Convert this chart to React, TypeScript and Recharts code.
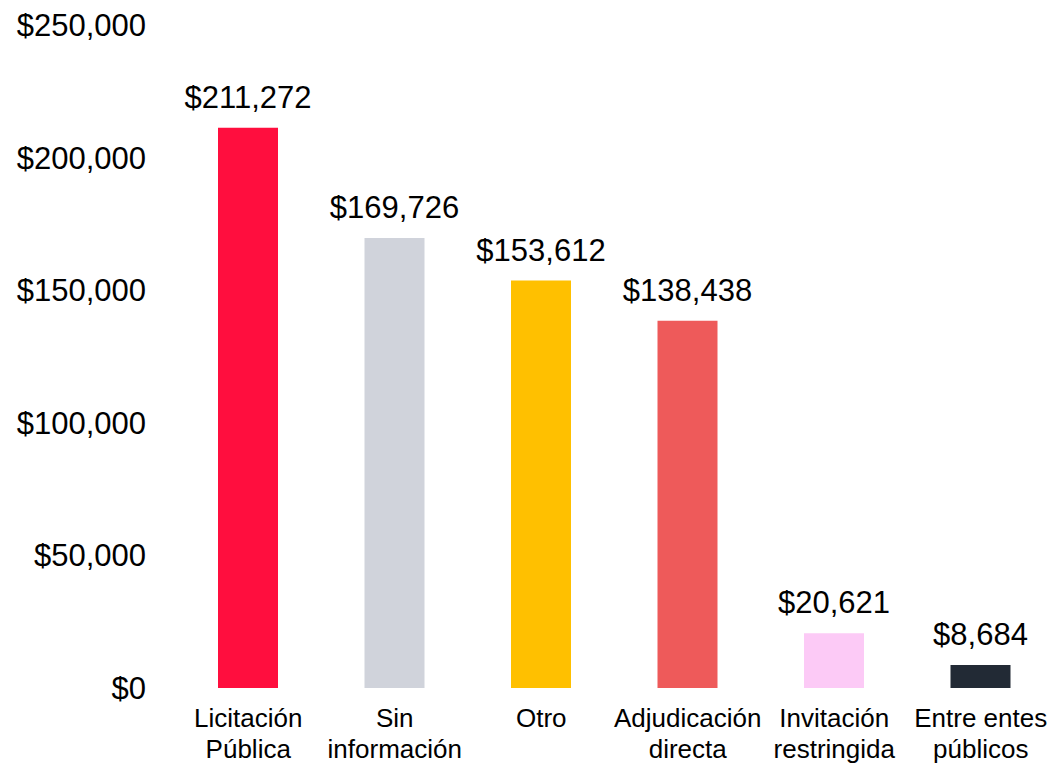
import React from 'react';
import { BarChart, Bar, XAxis, YAxis, Cell, LabelList } from 'recharts';

const CATEGORIES = [
  ['Licitación', 'Pública'],
  ['Sin', 'información'],
  ['Otro'],
  ['Adjudicación', 'directa'],
  ['Invitación', 'restringida'],
  ['Entre entes', 'públicos'],
];
const VALUES = [211272, 169726, 153612, 138438, 20621, 8684];
const COLORS = ['#FF0E3E', '#D0D3DB', '#FFC000', '#EE5A5A', '#FCCAF6', '#222A35'];
const Y_TICKS = [0, 50000, 100000, 150000, 200000, 250000];

const FONT = '"Liberation Sans", Arial, sans-serif';

const data = CATEGORIES.map((lines, i) => ({
  name: lines.join(' '),
  lines,
  value: VALUES[i],
}));

const money = (v: number) => '$' + v.toLocaleString('en-US');

function XTick(props: any) {
  const { x, y, index } = props;
  const lines = CATEGORIES[index] || [];
  return (
    <text x={x} y={y} textAnchor="middle" fontFamily={FONT} fontSize={26} fill="#000">
      {lines.map((l, i) => (
        <tspan key={i} x={x} dy={i === 0 ? 39 : 31}>
          {l}
        </tspan>
      ))}
    </text>
  );
}

export default function App() {
  return (
    <div style={{ position: 'absolute', left: 0, top: 0, width: 1051, height: 766, overflow: 'hidden', background: '#fff' }}>
      <BarChart width={1054} height={766} data={data} margin={{ top: 25, right: 0, bottom: 0, left: 0 }}>
        <YAxis
          domain={[0, 250000]}
          ticks={Y_TICKS}
          width={175}
          axisLine={false}
          tickLine={false}
          tickSize={0}
          tickMargin={29}
          tickFormatter={money}
          tick={{ fontFamily: FONT, fontSize: 31, fill: '#000' }}
        />
        <XAxis
          dataKey="name"
          height={78}
          axisLine={false}
          tickLine={false}
          tickSize={0}
          tickMargin={0}
          interval={0}
          tick={<XTick />}
        />
        <Bar dataKey="value" barSize={60} isAnimationActive={false}>
          {data.map((d, i) => (
            <Cell key={d.name} fill={COLORS[i]} />
          ))}
          <LabelList
            dataKey="value"
            position="top"
            offset={20}
            formatter={(v: any) => money(Number(v))}
            style={{ fontFamily: FONT, fontSize: 31, fill: '#000' }}
          />
        </Bar>
      </BarChart>
    </div>
  );
}
